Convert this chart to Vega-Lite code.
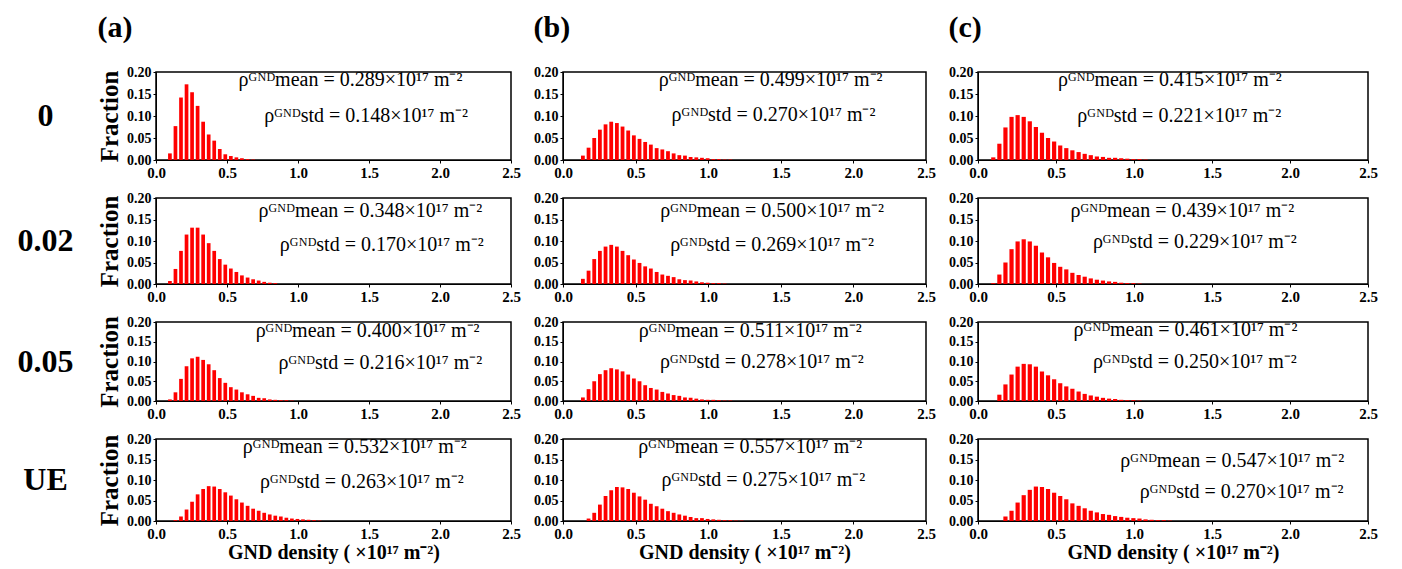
{
"$schema":"https://vega.github.io/schema/vega-lite/v6.json",
"padding":{"left":5,"top":12,"right":5,"bottom":2},
"background":"white",
"datasets":{
"hist":[
{"p":"a1","x":0.098,"f":0.015},{"p":"a1","x":0.137,"f":0.077},{"p":"a1","x":0.176,"f":0.142},{"p":"a1","x":0.215,"f":0.172},{"p":"a1","x":0.254,"f":0.154},{"p":"a1","x":0.293,"f":0.123},{"p":"a1","x":0.332,"f":0.087},{"p":"a1","x":0.371,"f":0.058},{"p":"a1","x":0.410,"f":0.044},{"p":"a1","x":0.449,"f":0.025},{"p":"a1","x":0.488,"f":0.013},{"p":"a1","x":0.527,"f":0.009},{"p":"a1","x":0.566,"f":0.006},{"p":"a1","x":0.605,"f":0.004},{"p":"a1","x":0.645,"f":0.002},{"p":"a1","x":0.684,"f":0.001},
{"p":"a2","x":0.098,"f":0.007},{"p":"a2","x":0.137,"f":0.035},{"p":"a2","x":0.176,"f":0.077},{"p":"a2","x":0.215,"f":0.115},{"p":"a2","x":0.254,"f":0.131},{"p":"a2","x":0.293,"f":0.131},{"p":"a2","x":0.332,"f":0.115},{"p":"a2","x":0.371,"f":0.095},{"p":"a2","x":0.410,"f":0.077},{"p":"a2","x":0.449,"f":0.058},{"p":"a2","x":0.488,"f":0.045},{"p":"a2","x":0.527,"f":0.036},{"p":"a2","x":0.566,"f":0.028},{"p":"a2","x":0.605,"f":0.020},{"p":"a2","x":0.645,"f":0.015},{"p":"a2","x":0.684,"f":0.011},{"p":"a2","x":0.723,"f":0.008},{"p":"a2","x":0.762,"f":0.005},{"p":"a2","x":0.801,"f":0.003},{"p":"a2","x":0.840,"f":0.002},
{"p":"a3","x":0.098,"f":0.004},{"p":"a3","x":0.137,"f":0.022},{"p":"a3","x":0.176,"f":0.056},{"p":"a3","x":0.215,"f":0.088},{"p":"a3","x":0.254,"f":0.108},{"p":"a3","x":0.293,"f":0.112},{"p":"a3","x":0.332,"f":0.104},{"p":"a3","x":0.371,"f":0.093},{"p":"a3","x":0.410,"f":0.078},{"p":"a3","x":0.449,"f":0.058},{"p":"a3","x":0.488,"f":0.046},{"p":"a3","x":0.527,"f":0.035},{"p":"a3","x":0.566,"f":0.029},{"p":"a3","x":0.605,"f":0.022},{"p":"a3","x":0.645,"f":0.017},{"p":"a3","x":0.684,"f":0.013},{"p":"a3","x":0.723,"f":0.008},{"p":"a3","x":0.762,"f":0.007},{"p":"a3","x":0.801,"f":0.004},{"p":"a3","x":0.840,"f":0.003},{"p":"a3","x":0.879,"f":0.002},{"p":"a3","x":0.918,"f":0.002},{"p":"a3","x":0.957,"f":0.001},
{"p":"a4","x":0.137,"f":0.002},{"p":"a4","x":0.176,"f":0.011},{"p":"a4","x":0.215,"f":0.028},{"p":"a4","x":0.254,"f":0.047},{"p":"a4","x":0.293,"f":0.065},{"p":"a4","x":0.332,"f":0.078},{"p":"a4","x":0.371,"f":0.085},{"p":"a4","x":0.410,"f":0.084},{"p":"a4","x":0.449,"f":0.078},{"p":"a4","x":0.488,"f":0.070},{"p":"a4","x":0.527,"f":0.062},{"p":"a4","x":0.566,"f":0.053},{"p":"a4","x":0.605,"f":0.045},{"p":"a4","x":0.645,"f":0.037},{"p":"a4","x":0.684,"f":0.030},{"p":"a4","x":0.723,"f":0.025},{"p":"a4","x":0.762,"f":0.020},{"p":"a4","x":0.801,"f":0.016},{"p":"a4","x":0.840,"f":0.013},{"p":"a4","x":0.879,"f":0.011},{"p":"a4","x":0.918,"f":0.008},{"p":"a4","x":0.957,"f":0.006},{"p":"a4","x":0.996,"f":0.005},{"p":"a4","x":1.035,"f":0.004},{"p":"a4","x":1.074,"f":0.003},{"p":"a4","x":1.113,"f":0.002},{"p":"a4","x":1.152,"f":0.001},
{"p":"b1","x":0.137,"f":0.010},{"p":"b1","x":0.176,"f":0.028},{"p":"b1","x":0.215,"f":0.050},{"p":"b1","x":0.254,"f":0.069},{"p":"b1","x":0.293,"f":0.081},{"p":"b1","x":0.332,"f":0.087},{"p":"b1","x":0.371,"f":0.084},{"p":"b1","x":0.410,"f":0.076},{"p":"b1","x":0.449,"f":0.067},{"p":"b1","x":0.488,"f":0.056},{"p":"b1","x":0.527,"f":0.048},{"p":"b1","x":0.566,"f":0.041},{"p":"b1","x":0.605,"f":0.035},{"p":"b1","x":0.645,"f":0.027},{"p":"b1","x":0.684,"f":0.024},{"p":"b1","x":0.723,"f":0.020},{"p":"b1","x":0.762,"f":0.015},{"p":"b1","x":0.801,"f":0.011},{"p":"b1","x":0.840,"f":0.010},{"p":"b1","x":0.879,"f":0.007},{"p":"b1","x":0.918,"f":0.006},{"p":"b1","x":0.957,"f":0.005},{"p":"b1","x":0.996,"f":0.004},{"p":"b1","x":1.035,"f":0.002},{"p":"b1","x":1.074,"f":0.002},{"p":"b1","x":1.113,"f":0.001},{"p":"b1","x":1.152,"f":0.001},
{"p":"b2","x":0.137,"f":0.012},{"p":"b2","x":0.176,"f":0.031},{"p":"b2","x":0.215,"f":0.058},{"p":"b2","x":0.254,"f":0.077},{"p":"b2","x":0.293,"f":0.087},{"p":"b2","x":0.332,"f":0.091},{"p":"b2","x":0.371,"f":0.087},{"p":"b2","x":0.410,"f":0.077},{"p":"b2","x":0.449,"f":0.067},{"p":"b2","x":0.488,"f":0.057},{"p":"b2","x":0.527,"f":0.049},{"p":"b2","x":0.566,"f":0.041},{"p":"b2","x":0.605,"f":0.036},{"p":"b2","x":0.645,"f":0.028},{"p":"b2","x":0.684,"f":0.022},{"p":"b2","x":0.723,"f":0.019},{"p":"b2","x":0.762,"f":0.016},{"p":"b2","x":0.801,"f":0.011},{"p":"b2","x":0.840,"f":0.009},{"p":"b2","x":0.879,"f":0.008},{"p":"b2","x":0.918,"f":0.006},{"p":"b2","x":0.957,"f":0.004},{"p":"b2","x":0.996,"f":0.003},{"p":"b2","x":1.035,"f":0.002},{"p":"b2","x":1.074,"f":0.002},{"p":"b2","x":1.113,"f":0.001},
{"p":"b3","x":0.137,"f":0.009},{"p":"b3","x":0.176,"f":0.030},{"p":"b3","x":0.215,"f":0.050},{"p":"b3","x":0.254,"f":0.068},{"p":"b3","x":0.293,"f":0.078},{"p":"b3","x":0.332,"f":0.083},{"p":"b3","x":0.371,"f":0.080},{"p":"b3","x":0.410,"f":0.075},{"p":"b3","x":0.449,"f":0.067},{"p":"b3","x":0.488,"f":0.057},{"p":"b3","x":0.527,"f":0.050},{"p":"b3","x":0.566,"f":0.040},{"p":"b3","x":0.605,"f":0.033},{"p":"b3","x":0.645,"f":0.029},{"p":"b3","x":0.684,"f":0.023},{"p":"b3","x":0.723,"f":0.019},{"p":"b3","x":0.762,"f":0.015},{"p":"b3","x":0.801,"f":0.013},{"p":"b3","x":0.840,"f":0.009},{"p":"b3","x":0.879,"f":0.008},{"p":"b3","x":0.918,"f":0.006},{"p":"b3","x":0.957,"f":0.004},{"p":"b3","x":0.996,"f":0.003},{"p":"b3","x":1.035,"f":0.003},{"p":"b3","x":1.074,"f":0.002},{"p":"b3","x":1.113,"f":0.001},{"p":"b3","x":1.152,"f":0.001},
{"p":"b4","x":0.176,"f":0.006},{"p":"b4","x":0.215,"f":0.020},{"p":"b4","x":0.254,"f":0.040},{"p":"b4","x":0.293,"f":0.061},{"p":"b4","x":0.332,"f":0.075},{"p":"b4","x":0.371,"f":0.083},{"p":"b4","x":0.410,"f":0.082},{"p":"b4","x":0.449,"f":0.078},{"p":"b4","x":0.488,"f":0.069},{"p":"b4","x":0.527,"f":0.060},{"p":"b4","x":0.566,"f":0.052},{"p":"b4","x":0.605,"f":0.042},{"p":"b4","x":0.645,"f":0.036},{"p":"b4","x":0.684,"f":0.030},{"p":"b4","x":0.723,"f":0.024},{"p":"b4","x":0.762,"f":0.020},{"p":"b4","x":0.801,"f":0.016},{"p":"b4","x":0.840,"f":0.013},{"p":"b4","x":0.879,"f":0.010},{"p":"b4","x":0.918,"f":0.007},{"p":"b4","x":0.957,"f":0.007},{"p":"b4","x":0.996,"f":0.005},{"p":"b4","x":1.035,"f":0.004},{"p":"b4","x":1.074,"f":0.003},{"p":"b4","x":1.113,"f":0.002},{"p":"b4","x":1.152,"f":0.002},{"p":"b4","x":1.191,"f":0.001},{"p":"b4","x":1.230,"f":0.001},
{"p":"c1","x":0.098,"f":0.006},{"p":"c1","x":0.137,"f":0.037},{"p":"c1","x":0.176,"f":0.074},{"p":"c1","x":0.215,"f":0.098},{"p":"c1","x":0.254,"f":0.102},{"p":"c1","x":0.293,"f":0.098},{"p":"c1","x":0.332,"f":0.088},{"p":"c1","x":0.371,"f":0.075},{"p":"c1","x":0.410,"f":0.062},{"p":"c1","x":0.449,"f":0.050},{"p":"c1","x":0.488,"f":0.042},{"p":"c1","x":0.527,"f":0.033},{"p":"c1","x":0.566,"f":0.027},{"p":"c1","x":0.605,"f":0.022},{"p":"c1","x":0.645,"f":0.018},{"p":"c1","x":0.684,"f":0.014},{"p":"c1","x":0.723,"f":0.011},{"p":"c1","x":0.762,"f":0.008},{"p":"c1","x":0.801,"f":0.007},{"p":"c1","x":0.840,"f":0.005},{"p":"c1","x":0.879,"f":0.005},{"p":"c1","x":0.918,"f":0.004},{"p":"c1","x":0.957,"f":0.003},{"p":"c1","x":0.996,"f":0.002},{"p":"c1","x":1.035,"f":0.002},{"p":"c1","x":1.074,"f":0.001},
{"p":"c2","x":0.098,"f":0.002},{"p":"c2","x":0.137,"f":0.022},{"p":"c2","x":0.176,"f":0.050},{"p":"c2","x":0.215,"f":0.081},{"p":"c2","x":0.254,"f":0.099},{"p":"c2","x":0.293,"f":0.104},{"p":"c2","x":0.332,"f":0.099},{"p":"c2","x":0.371,"f":0.089},{"p":"c2","x":0.410,"f":0.073},{"p":"c2","x":0.449,"f":0.062},{"p":"c2","x":0.488,"f":0.049},{"p":"c2","x":0.527,"f":0.040},{"p":"c2","x":0.566,"f":0.034},{"p":"c2","x":0.605,"f":0.026},{"p":"c2","x":0.645,"f":0.021},{"p":"c2","x":0.684,"f":0.017},{"p":"c2","x":0.723,"f":0.013},{"p":"c2","x":0.762,"f":0.010},{"p":"c2","x":0.801,"f":0.008},{"p":"c2","x":0.840,"f":0.006},{"p":"c2","x":0.879,"f":0.005},{"p":"c2","x":0.918,"f":0.003},{"p":"c2","x":0.957,"f":0.002},{"p":"c2","x":0.996,"f":0.002},{"p":"c2","x":1.035,"f":0.001},
{"p":"c3","x":0.137,"f":0.016},{"p":"c3","x":0.176,"f":0.042},{"p":"c3","x":0.215,"f":0.067},{"p":"c3","x":0.254,"f":0.087},{"p":"c3","x":0.293,"f":0.094},{"p":"c3","x":0.332,"f":0.093},{"p":"c3","x":0.371,"f":0.087},{"p":"c3","x":0.410,"f":0.075},{"p":"c3","x":0.449,"f":0.065},{"p":"c3","x":0.488,"f":0.055},{"p":"c3","x":0.527,"f":0.045},{"p":"c3","x":0.566,"f":0.037},{"p":"c3","x":0.605,"f":0.031},{"p":"c3","x":0.645,"f":0.024},{"p":"c3","x":0.684,"f":0.018},{"p":"c3","x":0.723,"f":0.014},{"p":"c3","x":0.762,"f":0.011},{"p":"c3","x":0.801,"f":0.008},{"p":"c3","x":0.840,"f":0.006},{"p":"c3","x":0.879,"f":0.005},{"p":"c3","x":0.918,"f":0.003},{"p":"c3","x":0.957,"f":0.002},{"p":"c3","x":0.996,"f":0.002},{"p":"c3","x":1.035,"f":0.001},
{"p":"c4","x":0.176,"f":0.011},{"p":"c4","x":0.215,"f":0.025},{"p":"c4","x":0.254,"f":0.045},{"p":"c4","x":0.293,"f":0.063},{"p":"c4","x":0.332,"f":0.076},{"p":"c4","x":0.371,"f":0.084},{"p":"c4","x":0.410,"f":0.083},{"p":"c4","x":0.449,"f":0.078},{"p":"c4","x":0.488,"f":0.069},{"p":"c4","x":0.527,"f":0.061},{"p":"c4","x":0.566,"f":0.053},{"p":"c4","x":0.605,"f":0.043},{"p":"c4","x":0.645,"f":0.037},{"p":"c4","x":0.684,"f":0.031},{"p":"c4","x":0.723,"f":0.025},{"p":"c4","x":0.762,"f":0.021},{"p":"c4","x":0.801,"f":0.017},{"p":"c4","x":0.840,"f":0.015},{"p":"c4","x":0.879,"f":0.012},{"p":"c4","x":0.918,"f":0.010},{"p":"c4","x":0.957,"f":0.008},{"p":"c4","x":0.996,"f":0.007},{"p":"c4","x":1.035,"f":0.006},{"p":"c4","x":1.074,"f":0.004},{"p":"c4","x":1.113,"f":0.003},{"p":"c4","x":1.152,"f":0.002},{"p":"c4","x":1.191,"f":0.002},{"p":"c4","x":1.230,"f":0.001}
],
"ann":[
{"p":"a1","m":"ρᴳᴺᴰmean = 0.289×10¹⁷ m⁻²","s":"ρᴳᴺᴰstd = 0.148×10¹⁷ m⁻²"},
{"p":"a2","m":"ρᴳᴺᴰmean = 0.348×10¹⁷ m⁻²","s":"ρᴳᴺᴰstd = 0.170×10¹⁷ m⁻²"},
{"p":"a3","m":"ρᴳᴺᴰmean = 0.400×10¹⁷ m⁻²","s":"ρᴳᴺᴰstd = 0.216×10¹⁷ m⁻²"},
{"p":"a4","m":"ρᴳᴺᴰmean = 0.532×10¹⁷ m⁻²","s":"ρᴳᴺᴰstd = 0.263×10¹⁷ m⁻²"},
{"p":"b1","m":"ρᴳᴺᴰmean = 0.499×10¹⁷ m⁻²","s":"ρᴳᴺᴰstd = 0.270×10¹⁷ m⁻²"},
{"p":"b2","m":"ρᴳᴺᴰmean = 0.500×10¹⁷ m⁻²","s":"ρᴳᴺᴰstd = 0.269×10¹⁷ m⁻²"},
{"p":"b3","m":"ρᴳᴺᴰmean = 0.511×10¹⁷ m⁻²","s":"ρᴳᴺᴰstd = 0.278×10¹⁷ m⁻²"},
{"p":"b4","m":"ρᴳᴺᴰmean = 0.557×10¹⁷ m⁻²","s":"ρᴳᴺᴰstd = 0.275×10¹⁷ m⁻²"},
{"p":"c1","m":"ρᴳᴺᴰmean = 0.415×10¹⁷ m⁻²","s":"ρᴳᴺᴰstd = 0.221×10¹⁷ m⁻²"},
{"p":"c2","m":"ρᴳᴺᴰmean = 0.439×10¹⁷ m⁻²","s":"ρᴳᴺᴰstd = 0.229×10¹⁷ m⁻²"},
{"p":"c3","m":"ρᴳᴺᴰmean = 0.461×10¹⁷ m⁻²","s":"ρᴳᴺᴰstd = 0.250×10¹⁷ m⁻²"},
{"p":"c4","m":"ρᴳᴺᴰmean = 0.547×10¹⁷ m⁻²","s":"ρᴳᴺᴰstd = 0.270×10¹⁷ m⁻²"}
]
},
"columns":4,
"spacing":{"row":9,"column":10},
"concat":[
{"width":81,"height":88,"view":{"stroke":null},"data":{"values":[{"r":"0"}]},"mark":{"type":"text","fontSize":32,"fontWeight":"bold"},"encoding":{"text":{"field":"r"}}},
{"width":355,"height":88,"title":{"text":"(a)"},"layer":[
 {"data":{"name":"hist"},"transform":[{"filter":"datum.p==='a1'"}],"mark":{"type":"bar","color":"#ff0000","width":3.7},"encoding":{"x":{"field":"x","type":"quantitative","scale":{"domain":[0,2.5],"padding":0,"nice":false,"zero":false},"axis":{"title":null,"values":[0,0.5,1,1.5,2,2.5],"format":".1f","tickCount":10}},"y":{"field":"f","type":"quantitative","scale":{"domain":[0,0.2],"nice":false},"axis":{"title":"Fraction","values":[0,0.05,0.1,0.15,0.2],"format":".2f","tickCount":10,"labelOverlap":false}}}},
 {"data":{"name":"ann"},"transform":[{"filter":"datum.p==='a1'"}],"mark":{"type":"text"},"encoding":{"x":{"datum":1.37},"y":{"datum":0.182},"text":{"field":"m"}}},
 {"data":{"name":"ann"},"transform":[{"filter":"datum.p==='a1'"}],"mark":{"type":"text"},"encoding":{"x":{"datum":1.48},"y":{"datum":0.1},"text":{"field":"s"}}}]},
{"width":363,"height":88,"title":{"text":"(b)"},"layer":[
 {"data":{"name":"hist"},"transform":[{"filter":"datum.p==='b1'"}],"mark":{"type":"bar","color":"#ff0000","width":3.8},"encoding":{"x":{"field":"x","type":"quantitative","scale":{"domain":[0,2.5],"padding":0,"nice":false,"zero":false},"axis":{"title":null,"values":[0,0.5,1,1.5,2,2.5],"format":".1f","tickCount":10}},"y":{"field":"f","type":"quantitative","scale":{"domain":[0,0.2],"nice":false},"axis":{"title":null,"values":[0,0.05,0.1,0.15,0.2],"format":".2f","tickCount":10,"labelOverlap":false}}}},
 {"data":{"name":"ann"},"transform":[{"filter":"datum.p==='b1'"}],"mark":{"type":"text"},"encoding":{"x":{"datum":1.43},"y":{"datum":0.182},"text":{"field":"m"}}},
 {"data":{"name":"ann"},"transform":[{"filter":"datum.p==='b1'"}],"mark":{"type":"text"},"encoding":{"x":{"datum":1.45},"y":{"datum":0.103},"text":{"field":"s"}}}]},
{"width":390,"height":88,"title":{"text":"(c)"},"layer":[
 {"data":{"name":"hist"},"transform":[{"filter":"datum.p==='c1'"}],"mark":{"type":"bar","color":"#ff0000","width":4.2},"encoding":{"x":{"field":"x","type":"quantitative","scale":{"domain":[0,2.5],"padding":0,"nice":false,"zero":false},"axis":{"title":null,"values":[0,0.5,1,1.5,2,2.5],"format":".1f","tickCount":10}},"y":{"field":"f","type":"quantitative","scale":{"domain":[0,0.2],"nice":false},"axis":{"title":null,"values":[0,0.05,0.1,0.15,0.2],"format":".2f","tickCount":10,"labelOverlap":false}}}},
 {"data":{"name":"ann"},"transform":[{"filter":"datum.p==='c1'"}],"mark":{"type":"text"},"encoding":{"x":{"datum":1.23},"y":{"datum":0.182},"text":{"field":"m"}}},
 {"data":{"name":"ann"},"transform":[{"filter":"datum.p==='c1'"}],"mark":{"type":"text"},"encoding":{"x":{"datum":1.29},"y":{"datum":0.1},"text":{"field":"s"}}}]},

{"width":81,"height":86,"view":{"stroke":null},"data":{"values":[{"r":"0.02"}]},"mark":{"type":"text","fontSize":32,"fontWeight":"bold"},"encoding":{"text":{"field":"r"}}},
{"width":355,"height":86,"layer":[
 {"data":{"name":"hist"},"transform":[{"filter":"datum.p==='a2'"}],"mark":{"type":"bar","color":"#ff0000","width":3.7},"encoding":{"x":{"field":"x","type":"quantitative","scale":{"domain":[0,2.5],"padding":0,"nice":false,"zero":false},"axis":{"title":null,"values":[0,0.5,1,1.5,2,2.5],"format":".1f","tickCount":10}},"y":{"field":"f","type":"quantitative","scale":{"domain":[0,0.2],"nice":false},"axis":{"title":"Fraction","values":[0,0.05,0.1,0.15,0.2],"format":".2f","tickCount":10,"labelOverlap":false}}}},
 {"data":{"name":"ann"},"transform":[{"filter":"datum.p==='a2'"}],"mark":{"type":"text"},"encoding":{"x":{"datum":1.51},"y":{"datum":0.17},"text":{"field":"m"}}},
 {"data":{"name":"ann"},"transform":[{"filter":"datum.p==='a2'"}],"mark":{"type":"text"},"encoding":{"x":{"datum":1.59},"y":{"datum":0.09},"text":{"field":"s"}}}]},
{"width":363,"height":86,"layer":[
 {"data":{"name":"hist"},"transform":[{"filter":"datum.p==='b2'"}],"mark":{"type":"bar","color":"#ff0000","width":3.8},"encoding":{"x":{"field":"x","type":"quantitative","scale":{"domain":[0,2.5],"padding":0,"nice":false,"zero":false},"axis":{"title":null,"values":[0,0.5,1,1.5,2,2.5],"format":".1f","tickCount":10}},"y":{"field":"f","type":"quantitative","scale":{"domain":[0,0.2],"nice":false},"axis":{"title":null,"values":[0,0.05,0.1,0.15,0.2],"format":".2f","tickCount":10,"labelOverlap":false}}}},
 {"data":{"name":"ann"},"transform":[{"filter":"datum.p==='b2'"}],"mark":{"type":"text"},"encoding":{"x":{"datum":1.44},"y":{"datum":0.17},"text":{"field":"m"}}},
 {"data":{"name":"ann"},"transform":[{"filter":"datum.p==='b2'"}],"mark":{"type":"text"},"encoding":{"x":{"datum":1.44},"y":{"datum":0.091},"text":{"field":"s"}}}]},
{"width":390,"height":86,"layer":[
 {"data":{"name":"hist"},"transform":[{"filter":"datum.p==='c2'"}],"mark":{"type":"bar","color":"#ff0000","width":4.2},"encoding":{"x":{"field":"x","type":"quantitative","scale":{"domain":[0,2.5],"padding":0,"nice":false,"zero":false},"axis":{"title":null,"values":[0,0.5,1,1.5,2,2.5],"format":".1f","tickCount":10}},"y":{"field":"f","type":"quantitative","scale":{"domain":[0,0.2],"nice":false},"axis":{"title":null,"values":[0,0.05,0.1,0.15,0.2],"format":".2f","tickCount":10,"labelOverlap":false}}}},
 {"data":{"name":"ann"},"transform":[{"filter":"datum.p==='c2'"}],"mark":{"type":"text"},"encoding":{"x":{"datum":1.31},"y":{"datum":0.17},"text":{"field":"m"}}},
 {"data":{"name":"ann"},"transform":[{"filter":"datum.p==='c2'"}],"mark":{"type":"text"},"encoding":{"x":{"datum":1.39},"y":{"datum":0.097},"text":{"field":"s"}}}]},

{"width":81,"height":79,"view":{"stroke":null},"data":{"values":[{"r":"0.05"}]},"mark":{"type":"text","fontSize":32,"fontWeight":"bold"},"encoding":{"text":{"field":"r"}}},
{"width":355,"height":79,"layer":[
 {"data":{"name":"hist"},"transform":[{"filter":"datum.p==='a3'"}],"mark":{"type":"bar","color":"#ff0000","width":3.7},"encoding":{"x":{"field":"x","type":"quantitative","scale":{"domain":[0,2.5],"padding":0,"nice":false,"zero":false},"axis":{"title":null,"values":[0,0.5,1,1.5,2,2.5],"format":".1f","tickCount":10}},"y":{"field":"f","type":"quantitative","scale":{"domain":[0,0.2],"nice":false},"axis":{"title":"Fraction","values":[0,0.05,0.1,0.15,0.2],"format":".2f","tickCount":10,"labelOverlap":false}}}},
 {"data":{"name":"ann"},"transform":[{"filter":"datum.p==='a3'"}],"mark":{"type":"text"},"encoding":{"x":{"datum":1.49},"y":{"datum":0.178},"text":{"field":"m"}}},
 {"data":{"name":"ann"},"transform":[{"filter":"datum.p==='a3'"}],"mark":{"type":"text"},"encoding":{"x":{"datum":1.58},"y":{"datum":0.096},"text":{"field":"s"}}}]},
{"width":363,"height":79,"layer":[
 {"data":{"name":"hist"},"transform":[{"filter":"datum.p==='b3'"}],"mark":{"type":"bar","color":"#ff0000","width":3.8},"encoding":{"x":{"field":"x","type":"quantitative","scale":{"domain":[0,2.5],"padding":0,"nice":false,"zero":false},"axis":{"title":null,"values":[0,0.5,1,1.5,2,2.5],"format":".1f","tickCount":10}},"y":{"field":"f","type":"quantitative","scale":{"domain":[0,0.2],"nice":false},"axis":{"title":null,"values":[0,0.05,0.1,0.15,0.2],"format":".2f","tickCount":10,"labelOverlap":false}}}},
 {"data":{"name":"ann"},"transform":[{"filter":"datum.p==='b3'"}],"mark":{"type":"text"},"encoding":{"x":{"datum":1.29},"y":{"datum":0.178},"text":{"field":"m"}}},
 {"data":{"name":"ann"},"transform":[{"filter":"datum.p==='b3'"}],"mark":{"type":"text"},"encoding":{"x":{"datum":1.37},"y":{"datum":0.098},"text":{"field":"s"}}}]},
{"width":390,"height":79,"layer":[
 {"data":{"name":"hist"},"transform":[{"filter":"datum.p==='c3'"}],"mark":{"type":"bar","color":"#ff0000","width":4.2},"encoding":{"x":{"field":"x","type":"quantitative","scale":{"domain":[0,2.5],"padding":0,"nice":false,"zero":false},"axis":{"title":null,"values":[0,0.5,1,1.5,2,2.5],"format":".1f","tickCount":10}},"y":{"field":"f","type":"quantitative","scale":{"domain":[0,0.2],"nice":false},"axis":{"title":null,"values":[0,0.05,0.1,0.15,0.2],"format":".2f","tickCount":10,"labelOverlap":false}}}},
 {"data":{"name":"ann"},"transform":[{"filter":"datum.p==='c3'"}],"mark":{"type":"text"},"encoding":{"x":{"datum":1.33},"y":{"datum":0.18},"text":{"field":"m"}}},
 {"data":{"name":"ann"},"transform":[{"filter":"datum.p==='c3'"}],"mark":{"type":"text"},"encoding":{"x":{"datum":1.39},"y":{"datum":0.1},"text":{"field":"s"}}}]},

{"width":81,"height":82,"view":{"stroke":null},"data":{"values":[{"r":"UE"}]},"mark":{"type":"text","fontSize":32,"fontWeight":"bold"},"encoding":{"text":{"field":"r"}}},
{"width":355,"height":82,"layer":[
 {"data":{"name":"hist"},"transform":[{"filter":"datum.p==='a4'"}],"mark":{"type":"bar","color":"#ff0000","width":3.7},"encoding":{"x":{"field":"x","type":"quantitative","scale":{"domain":[0,2.5],"padding":0,"nice":false,"zero":false},"axis":{"title":"GND density ( ×10¹⁷ m⁻²)","values":[0,0.5,1,1.5,2,2.5],"format":".1f","tickCount":10}},"y":{"field":"f","type":"quantitative","scale":{"domain":[0,0.2],"nice":false},"axis":{"title":"Fraction","values":[0,0.05,0.1,0.15,0.2],"format":".2f","tickCount":10,"labelOverlap":false}}}},
 {"data":{"name":"ann"},"transform":[{"filter":"datum.p==='a4'"}],"mark":{"type":"text"},"encoding":{"x":{"datum":1.4},"y":{"datum":0.18},"text":{"field":"m"}}},
 {"data":{"name":"ann"},"transform":[{"filter":"datum.p==='a4'"}],"mark":{"type":"text"},"encoding":{"x":{"datum":1.45},"y":{"datum":0.096},"text":{"field":"s"}}}]},
{"width":363,"height":82,"layer":[
 {"data":{"name":"hist"},"transform":[{"filter":"datum.p==='b4'"}],"mark":{"type":"bar","color":"#ff0000","width":3.8},"encoding":{"x":{"field":"x","type":"quantitative","scale":{"domain":[0,2.5],"padding":0,"nice":false,"zero":false},"axis":{"title":"GND density ( ×10¹⁷ m⁻²)","values":[0,0.5,1,1.5,2,2.5],"format":".1f","tickCount":10}},"y":{"field":"f","type":"quantitative","scale":{"domain":[0,0.2],"nice":false},"axis":{"title":null,"values":[0,0.05,0.1,0.15,0.2],"format":".2f","tickCount":10,"labelOverlap":false}}}},
 {"data":{"name":"ann"},"transform":[{"filter":"datum.p==='b4'"}],"mark":{"type":"text"},"encoding":{"x":{"datum":1.29},"y":{"datum":0.18},"text":{"field":"m"}}},
 {"data":{"name":"ann"},"transform":[{"filter":"datum.p==='b4'"}],"mark":{"type":"text"},"encoding":{"x":{"datum":1.38},"y":{"datum":0.1},"text":{"field":"s"}}}]},
{"width":390,"height":82,"layer":[
 {"data":{"name":"hist"},"transform":[{"filter":"datum.p==='c4'"}],"mark":{"type":"bar","color":"#ff0000","width":4.2},"encoding":{"x":{"field":"x","type":"quantitative","scale":{"domain":[0,2.5],"padding":0,"nice":false,"zero":false},"axis":{"title":"GND density ( ×10¹⁷ m⁻²)","values":[0,0.5,1,1.5,2,2.5],"format":".1f","tickCount":10}},"y":{"field":"f","type":"quantitative","scale":{"domain":[0,0.2],"nice":false},"axis":{"title":null,"values":[0,0.05,0.1,0.15,0.2],"format":".2f","tickCount":10,"labelOverlap":false}}}},
 {"data":{"name":"ann"},"transform":[{"filter":"datum.p==='c4'"}],"mark":{"type":"text"},"encoding":{"x":{"datum":1.63},"y":{"datum":0.147},"text":{"field":"m"}}},
 {"data":{"name":"ann"},"transform":[{"filter":"datum.p==='c4'"}],"mark":{"type":"text"},"encoding":{"x":{"datum":1.69},"y":{"datum":0.07},"text":{"field":"s"}}}]}
],
"config":{
 "font":"Liberation Serif",
 "view":{"stroke":"black","strokeWidth":1.5},
 "scale":{"continuousPadding":0},
 "text":{"font":"Liberation Serif","fontSize":20,"color":"black"},
 "axis":{"labelFont":"Liberation Serif","labelFontWeight":"bold","labelColor":"black","domainColor":"black","tickColor":"black","tickSize":3,"grid":false,"titleFont":"Liberation Serif","titleFontWeight":"bold","titleColor":"black","labelPadding":2,"labelFlush":false,"labelOverlap":false},
 "axisX":{"labelFontSize":15,"titleFontSize":20,"titlePadding":1},
 "axisY":{"labelFontSize":14,"titleFontSize":25,"titlePadding":4},
 "title":{"font":"Liberation Serif","fontSize":30,"fontWeight":"bold","anchor":"start","color":"black","offset":22}
}
}
